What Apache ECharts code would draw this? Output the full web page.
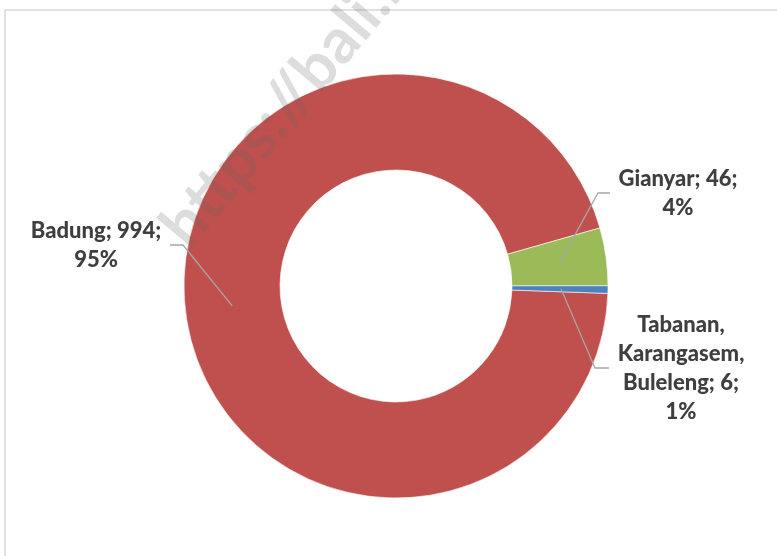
<!DOCTYPE html>
<html>
<head>
<meta charset="utf-8">
<script src="https://cdn.jsdelivr.net/npm/echarts@6/dist/echarts.min.js"></script>
<style>
  html, body { margin: 0; padding: 0; background: #fff; }
  #chart { width: 777px; height: 556px; }
</style>
</head>
<body>
<div id="chart"></div>
<script>
// data
var regions = ['Badung', 'Gianyar', 'Tabanan, Karangasem, Buleleng'];
var counts = [994, 46, 6];
var colors = ['#C0504D', '#9BBB59', '#4F81BD'];

// label boxes (center x, center y, line end x, elbow x)
var labelSpots = [
  [96, 245, 170, 183],
  [678, 193, 610, 598],
  [681, 368, 609, 595]
];

var cx = 396, cy = 286, rIn = 116, rOut = 212;
var rMid = (rIn + rOut) / 2 + 1;
var startAngle = -2;

var pieData = regions.map(function (r, i) {
  return { name: r, value: counts[i], itemStyle: { color: colors[i] } };
});

// leader lines: from the middle of each slice to its label
var total = counts.reduce(function (a, b) { return a + b; }, 0);
var cum = 0;
var leaders = counts.map(function (v, i) {
  var mid = (startAngle - 360 * (cum + v / 2) / total) * Math.PI / 180;
  cum += v;
  var s = labelSpots[i];
  return {
    type: 'polyline',
    z: 50,
    silent: true,
    shape: {
      points: [
        [cx + rMid * Math.cos(mid), cy - rMid * Math.sin(mid)],
        [s[3], s[1]],
        [s[2], s[1]]
      ]
    },
    style: { stroke: '#a6a6a6', lineWidth: 1.3, fill: null }
  };
});

var chart = echarts.init(document.getElementById('chart'));

var option = {
  animation: false,
  graphic: [
    {
      type: 'rect',
      z: 0,
      shape: { x: 5, y: 10, width: 820, height: 600 },
      style: { fill: 'none', stroke: '#d9d9d9', lineWidth: 1.5 }
    },
    {
      type: 'text',
      z: 100,
      x: 198,
      y: 258,
      rotation: 50 * Math.PI / 180,
      style: {
        text: 'https://bali.bps.go.id',
        fill: 'rgba(100,100,100,0.22)',
        font: 'bold 63px Lato',
        textVerticalAlign: 'bottom'
      }
    }
  ].concat(leaders),
  series: [
    {
      type: 'pie',
      z: 2,
      center: [cx, cy],
      radius: [rIn, rOut],
      startAngle: startAngle,
      clockwise: true,
      silent: true,
      percentPrecision: 0,
      itemStyle: { borderColor: '#fff', borderWidth: 0.6 },
      emphasis: { disabled: true },
      label: {
        show: true,
        position: 'outside',
        color: '#3f3f3f',
        fontFamily: 'Lato',
        fontWeight: 900,
        fontSize: 22,
        lineHeight: 29,
        align: 'center',
        overflow: 'none',
        formatter: function (p) {
          return p.name.replace(/, /g, ',\n') + '; ' + p.value + ';\n' + p.percent + '%';
        }
      },
      labelLine: { show: false },
      labelLayout: function (p) {
        var s = labelSpots[p.dataIndex];
        return {
          x: s[0],
          y: s[1],
          align: 'center',
          verticalAlign: 'middle',
          width: 200
        };
      },
      data: pieData
    }
  ]
};

chart.setOption(option);
</script>
</body>
</html>
